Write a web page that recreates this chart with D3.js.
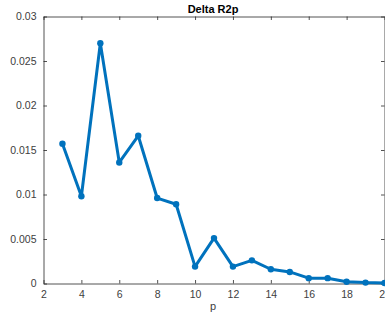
<!DOCTYPE html>
<html>
<head>
<meta charset="utf-8">
<script src="https://cdn.jsdelivr.net/npm/d3@7"></script>
<style>
body { margin: 0; background: #fff; }
text { font-family: "Liberation Sans", Arial, sans-serif; }
</style>
</head>
<body>
<script>
const P = [3, 4, 5, 6, 7, 8, 9, 10, 11, 12, 13, 14, 15, 16, 17, 18, 19, 20];
const DELTA = [0.0157, 0.0098, 0.0270, 0.0136, 0.0166, 0.0096, 0.0089, 0.0019, 0.0051,
    0.0019, 0.0026, 0.0016, 0.0013, 0.0006, 0.0006, 0.0002, 0.0001, 0.00005];
const X_TICKS = [2, 4, 6, 8, 10, 12, 14, 16, 18, 20];
const Y_TICKS = [0, 0.005, 0.01, 0.015, 0.02, 0.025, 0.03];
const Y_LABELS = ["0", "0.005", "0.01", "0.015", "0.02", "0.025", "0.03"];

const width = 385, height = 320;
const mLeft = 43.5, mRight = 384.5, mTop = 16.5, mBottom = 283.5;

const svg = d3.select('body').append('svg')
    .attr('width', width)
    .attr('height', height);

const x = d3.scaleLinear().domain([2, 20]).range([mLeft, mRight]);
const y = d3.scaleLinear().domain([0, 0.03]).range([mBottom, mTop]);

//axes with inward ticks
const axisColor = '#262626';
const tickLen = 3.5;

const xAxis = svg.append('g').attr('transform', `translate(0,${mBottom})`)
    .call(d3.axisBottom(x).tickValues(X_TICKS).tickSize(-tickLen).tickPadding(7).tickSizeOuter(0));
const xTop = svg.append('g').attr('transform', `translate(0,${mTop})`)
    .call(d3.axisTop(x).tickValues(X_TICKS).tickSize(-tickLen).tickFormat('').tickSizeOuter(0));
const yAxis = svg.append('g').attr('transform', `translate(${mLeft},0)`)
    .call(d3.axisLeft(y).tickValues(Y_TICKS).tickSize(-tickLen).tickPadding(7).tickSizeOuter(0)
        .tickFormat((d, i) => Y_LABELS[i]));
const yRight = svg.append('g').attr('transform', `translate(${mRight},0)`)
    .call(d3.axisRight(y).tickValues(Y_TICKS).tickSize(-tickLen).tickFormat('').tickSizeOuter(0));

[xAxis, xTop, yAxis, yRight].forEach(g => {
    g.selectAll('path').attr('stroke', axisColor).attr('stroke-width', 0.8);
    g.selectAll('line').attr('stroke', axisColor).attr('stroke-width', 0.8);
    g.selectAll('text').attr('fill', '#404040').style('font-size', '10.5px');
});
xAxis.selectAll('text').attr('dy', '0.71em');

//line + markers
const line = d3.line().x((d, i) => x(P[i])).y(d => y(d));
svg.append('path')
    .datum(DELTA)
    .attr('d', line)
    .attr('fill', 'none')
    .attr('stroke', '#0072BD')
    .attr('stroke-width', 3)
    .attr('stroke-linejoin', 'round');

svg.selectAll('circle')
    .data(DELTA)
    .enter()
    .append('circle')
    .attr('cx', (d, i) => x(P[i]))
    .attr('cy', d => y(d))
    .attr('r', 3.2)
    .attr('fill', '#0072BD');

//title and label
svg.append('text')
    .text('Delta R2p')
    .attr('x', 213)
    .attr('y', 13)
    .attr('text-anchor', 'middle')
    .style('font-size', '11px')
    .style('font-weight', 'bold')
    .attr('fill', '#000');

svg.append('text')
    .text('p')
    .attr('x', 213)
    .attr('y', 310)
    .attr('text-anchor', 'middle')
    .style('font-size', '11px')
    .attr('fill', '#404040');
</script>
</body>
</html>
